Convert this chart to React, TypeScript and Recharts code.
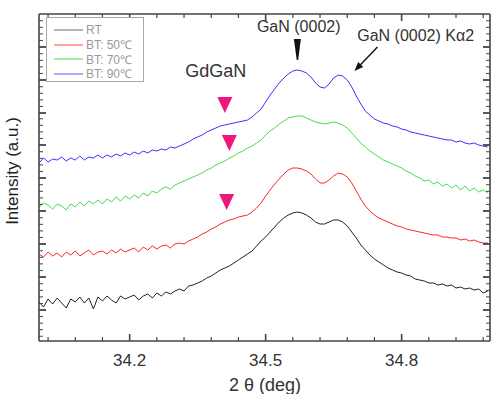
import React from 'react';
import { LineChart, Line, XAxis, YAxis, Legend, ReferenceDot, Label } from 'recharts';

// 2θ grid (deg)
const twoTheta = [
  34.00, 34.01, 34.02, 34.03, 34.04, 34.05, 34.06, 34.07, 34.08, 34.09,
  34.10, 34.11, 34.12, 34.13, 34.14, 34.15, 34.16, 34.17, 34.18, 34.19,
  34.20, 34.21, 34.22, 34.23, 34.24, 34.25, 34.26, 34.27, 34.28, 34.29,
  34.30, 34.31, 34.32, 34.33, 34.34, 34.35, 34.36, 34.37, 34.38, 34.39,
  34.40, 34.41, 34.42, 34.43, 34.44, 34.45, 34.46, 34.47, 34.48, 34.49,
  34.50, 34.51, 34.52, 34.53, 34.54, 34.55, 34.56, 34.57, 34.58, 34.59,
  34.60, 34.61, 34.62, 34.63, 34.64, 34.65, 34.66, 34.67, 34.68, 34.69,
  34.70, 34.71, 34.72, 34.73, 34.74, 34.75, 34.76, 34.77, 34.78, 34.79,
  34.80, 34.81, 34.82, 34.83, 34.84, 34.85, 34.86, 34.87, 34.88, 34.89,
  34.90, 34.91, 34.92, 34.93, 34.94, 34.95, 34.96, 34.97, 34.98, 34.99,
];

// intensities (a.u., curves offset vertically)
const rt = [
  39, 34, 42, 37, 43, 38, 33, 42, 39, 44,
  38, 43, 32, 44, 40, 45, 41, 38, 45, 42,
  44, 46, 41, 45, 47, 43, 48, 45, 49, 47,
  50, 52, 50, 55, 56, 58, 60, 63, 65, 68,
  71, 73, 75, 78, 81, 84, 87, 90, 95, 100,
  104, 109, 114, 119, 123, 126, 128, 129, 128, 126,
  123, 119, 117, 117, 119, 121, 121, 119, 115, 109,
  103, 96, 91, 86, 82, 79, 76, 73, 71, 69,
  68, 66, 65, 62, 61, 60, 58, 58, 56, 57,
  55, 56, 53, 54, 52, 53, 51, 52, 48, 50,
];
const bt50 = [
  87, 84, 89, 85, 88, 84, 89, 86, 90, 85,
  88, 91, 86, 89, 90, 87, 91, 88, 92, 89,
  91, 93, 89, 94, 91, 95, 92, 95, 96, 93,
  97, 98, 97, 100, 102, 104, 107, 109, 112, 114,
  117, 119, 121, 122, 124, 125, 126, 129, 133, 138,
  145, 151, 157, 162, 167, 171, 173, 173, 172, 170,
  167, 162, 158, 158, 161, 165, 168, 167, 164, 158,
  150, 142, 135, 130, 126, 123, 121, 119, 117, 115,
  114, 112, 111, 110, 109, 108, 107, 106, 106, 104,
  104, 103, 103, 101, 102, 100, 101, 99, 98, 98,
];
const bt70 = [
  134, 138, 136, 132, 137, 135, 131, 137, 134, 139,
  135, 140, 137, 141, 137, 142, 139, 144, 140, 145,
  142, 146, 143, 148, 145, 150, 148, 152, 154, 152,
  156, 158, 160, 162, 164, 166, 168, 171, 173, 176,
  178, 180, 183, 185, 188, 190, 193, 195, 198, 201,
  206, 210, 213, 217, 220, 223, 224, 225, 225, 223,
  221, 219, 218, 217, 218, 219, 218, 216, 213, 208,
  203, 198, 194, 190, 187, 184, 181, 179, 177, 175,
  173, 170, 168, 165, 163, 160, 161, 157, 159, 155,
  157, 153, 156, 151, 155, 150, 153, 149, 151, 148,
];
const bt90 = [
  178, 183, 179, 182, 181, 184, 180, 183, 181, 185,
  181, 184, 183, 186, 183, 186, 184, 187, 185, 188,
  186, 189, 187, 190, 188, 191, 190, 192, 191, 194,
  193, 195, 197, 199, 202, 204, 206, 209, 211, 213,
  215, 216, 217, 218, 219, 220, 221, 224, 228, 232,
  239, 246, 252, 258, 263, 267, 270, 271, 270, 268,
  264, 258, 254, 253, 257, 263, 266, 265, 261, 254,
  245, 237, 230, 226, 222, 220, 218, 217, 215, 214,
  212, 211, 209, 208, 207, 206, 205, 204, 203, 202,
  201, 201, 199, 200, 198, 197, 198, 196, 195, 194,
];

const seriesKeys = ['rt', 'bt50', 'bt70', 'bt90'];
const seriesNames = ['RT', 'BT: 50℃', 'BT: 70℃', 'BT: 90℃'];
const seriesColors = ['#222222', '#ff2424', '#48dc48', '#3434ff'];
const legendColors = ['#b4b4b4', '#ffa4a4', '#a4f0a4', '#acacff'];

// GdGaN shoulder markers (one per BT curve)
const gdMarkX = [34.41, 34.42, 34.414];
const gdMarkY = [244, 206, 147];

const xMajor = [34.2, 34.5, 34.8];
const xMinor = [34.02, 34.08, 34.14, 34.26, 34.32, 34.38, 34.44, 34.56, 34.62, 34.68, 34.74, 34.86, 34.92, 34.98];
const yMajor = [31, 64, 97, 130, 163, 196, 228, 261, 294];
const yMinorStep = 6.56;

const xTicks = [...xMinor, ...xMajor].sort((a, b) => a - b);
const yTicks = [
  ...yMajor,
  ...[yMajor[0] - 32.8, ...yMajor].flatMap(m => [1, 2, 3, 4].map(k => +(m + k * yMinorStep).toFixed(2))),
].filter(v => v > 0 && v < 327).sort((a, b) => a - b);

const data = twoTheta.map((t, i) => ({ t, rt: rt[i], bt50: bt50[i], bt70: bt70[i], bt90: bt90[i] }));

const FONT = '"Liberation Sans", Arial, sans-serif';
const AXIS = '#444';

const BottomTick = ({ x, y, payload }: any) => {
  const major = xMajor.includes(payload.value);
  return (
    <g>
      <line x1={x} x2={x} y1={y} y2={y - (major ? 7 : 4)} stroke={AXIS} strokeWidth={major ? 1.6 : 1.2} />
      {major && (
        <text x={x} y={y + 25} textAnchor="middle" fontSize={17} fontFamily={FONT} fill="#333">
          {payload.value.toFixed(1)}
        </text>
      )}
    </g>
  );
};
const TopTick = ({ x, y, payload }: any) => {
  const major = xMajor.includes(payload.value);
  return <line x1={x} x2={x} y1={y} y2={y + (major ? 7 : 4)} stroke={AXIS} strokeWidth={major ? 1.6 : 1.2} />;
};
const LeftTick = ({ x, y, payload }: any) => {
  const major = yMajor.includes(payload.value);
  return <line x1={x} x2={x + (major ? 7 : 4)} y1={y} y2={y} stroke={AXIS} strokeWidth={major ? 1.8 : 1} />;
};
const RightTick = ({ x, y, payload }: any) => {
  const major = yMajor.includes(payload.value);
  return <line x1={x} x2={x - (major ? 7 : 4)} y1={y} y2={y} stroke={AXIS} strokeWidth={major ? 1.8 : 1} />;
};

const DownTriangle = ({ cx, cy }: any) => (
  <polygon points={`${cx - 7.5},${cy} ${cx + 7.5},${cy} ${cx},${cy + 16}`} fill="#f0167c" />
);
const Wedge = ({ cx, cy }: any) => (
  <path d={`M${cx - 3.5},${cy} L${cx + 3.5},${cy} L${cx + 0.8},${cy + 21} L${cx - 0.6},${cy + 21} Z`} fill="#111" />
);
const SlantArrow = ({ cx, cy }: any) => (
  <g>
    <line x1={cx + 6} y1={cy - 6.3} x2={cx + 23} y2={cy - 24} stroke="#111" strokeWidth={1.4} />
    <polygon points={`${cx},${cy} ${cx + 8.7},${cy - 4.1} ${cx + 3.7},${cy - 8.9}`} fill="#111" />
  </g>
);
const textShape = (txt: string, size: number) => ({ cx, cy }: any) => (
  <text x={cx} y={cy} textAnchor="middle" fontSize={size} fontFamily={FONT} fill="#333">{txt}</text>
);

const LegendBox = () => (
  <div style={{ width: 96, height: 63, border: '1px solid #a8a8a8', background: '#fff', fontFamily: FONT, fontSize: 12, color: '#9a9a9a', boxSizing: 'content-box' }}>
    {seriesNames.map((n, i) => (
      <div key={n} style={{ display: 'flex', alignItems: 'center', height: 14.5, marginTop: i === 0 ? 5 : 0 }}>
        <span style={{ display: 'inline-block', width: 29, height: 2, background: legendColors[i], marginLeft: 7, marginRight: 3 }} />
        <span>{n}</span>
      </div>
    ))}
  </div>
);

export default function App() {
  return (
    <div style={{ position: 'absolute', left: 0, top: 0, width: 493, height: 394, background: '#fff' }}>
      <LineChart width={493} height={394} data={data} margin={{ top: 13, right: 2, bottom: 52, left: 38 }}>
        <XAxis dataKey="t" type="number" domain={[34.0, 34.995]} allowDataOverflow ticks={xTicks} interval={0}
          height={1} tickSize={0} tickMargin={0} tick={<BottomTick />} stroke={AXIS} strokeWidth={1.6}>
          <Label content={() => (
            <text x={265} y={391} textAnchor="middle" fontSize={18} fontFamily={FONT} fill="#333">2 θ (deg)</text>
          )} />
        </XAxis>
        <XAxis xAxisId="top" orientation="top" dataKey="t" type="number" domain={[34.0, 34.995]} allowDataOverflow
          ticks={xTicks} interval={0} height={1} tickSize={0} tickMargin={0} tick={<TopTick />} stroke={AXIS} strokeWidth={1.6} />
        <YAxis domain={[0, 327]} type="number" allowDataOverflow ticks={yTicks} interval={0} width={1}
          tickSize={0} tickMargin={0} tick={<LeftTick />} stroke={AXIS} strokeWidth={1.6}>
          <Label content={() => (
            <text x={18} y={171} transform="rotate(-90, 18, 171)" textAnchor="middle" fontSize={17} fontFamily={FONT} fill="#222">
              Intensity (a.u.)
            </text>
          )} />
        </YAxis>
        <YAxis yAxisId="right" orientation="right" domain={[0, 327]} type="number" allowDataOverflow ticks={yTicks}
          interval={0} width={1} tickSize={0} tickMargin={0} tick={<RightTick />} stroke={AXIS} strokeWidth={1.6} />
        {seriesKeys.map((k, i) => (
          <Line key={k} dataKey={k} name={seriesNames[i]} stroke={seriesColors[i]} strokeWidth={1}
            dot={false} type="linear" isAnimationActive={false} />
        ))}
        {gdMarkX.map((mx, i) => (
          <ReferenceDot key={`m${i}`} x={mx} y={gdMarkY[i]} shape={<DownTriangle />} ifOverflow="visible" />
        ))}
        <ReferenceDot x={34.57} y={302} shape={<Wedge />} ifOverflow="visible" />
        <ReferenceDot x={34.696} y={270} shape={<SlantArrow />} ifOverflow="visible" />
        <ReferenceDot x={34.39} y={264} shape={textShape('GdGaN', 18)} ifOverflow="visible" />
        <ReferenceDot x={34.573} y={309} shape={textShape('GaN (0002)', 16)} ifOverflow="visible" />
        <ReferenceDot x={34.831} y={300} shape={textShape('GaN (0002) Kα2', 16)} ifOverflow="visible" />
        <Legend layout="vertical" verticalAlign="middle" align="center" content={() => <LegendBox />}
          wrapperStyle={{ left: 46, top: 17, right: 'auto', bottom: 'auto', width: 98, height: 65 }} />
      </LineChart>
    </div>
  );
}
